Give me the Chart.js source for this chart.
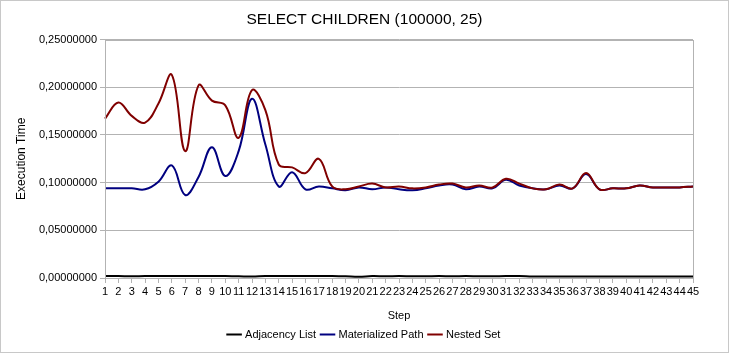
<!DOCTYPE html>
<html>
<head>
<meta charset="utf-8">
<script src="https://cdn.jsdelivr.net/npm/chart.js@4/dist/chart.umd.min.js"></script>
<style>
  html, body { margin: 0; padding: 0; background: #fff; }
  #wrap { width: 729px; height: 353px; }
</style>
</head>
<body>
<div id="wrap"><canvas id="myChart" width="729" height="353"></canvas></div>
<script>
const steps = Array.from({ length: 45 }, (_, i) => String(i + 1));

const adjacencyList = [
    0.0020, 0.0020, 0.0018, 0.0020, 0.0020, 0.0020, 0.0020, 0.0020, 0.0020, 0.0020,
    0.0018, 0.0015, 0.0020, 0.0020, 0.0020, 0.0020, 0.0020, 0.0020, 0.0018, 0.0014,
    0.0020, 0.0018, 0.0020, 0.0018, 0.0018, 0.0020, 0.0018, 0.0020, 0.0018, 0.0018,
    0.0020, 0.0020, 0.0015, 0.0015, 0.0015, 0.0015, 0.0015, 0.0015, 0.0015, 0.0015,
    0.0015, 0.0015, 0.0015, 0.0015, 0.0015
];

const materializedPath = [
    0.094, 0.094, 0.094, 0.093, 0.101, 0.118, 0.087, 0.106, 0.137, 0.107,
    0.133, 0.188, 0.140, 0.096, 0.111, 0.093, 0.096, 0.094, 0.092, 0.095,
    0.093, 0.095, 0.093, 0.092, 0.094, 0.097, 0.098, 0.093, 0.096, 0.094,
    0.103, 0.097, 0.094, 0.093, 0.097, 0.094, 0.109, 0.093, 0.094, 0.094,
    0.097, 0.095, 0.095, 0.095, 0.096
];

const nestedSet = [
    0.167, 0.184, 0.170, 0.163, 0.183, 0.213, 0.133, 0.202, 0.186, 0.181,
    0.147, 0.197, 0.176, 0.119, 0.116, 0.110, 0.125, 0.096, 0.093, 0.096,
    0.099, 0.095, 0.096, 0.094, 0.095, 0.098, 0.099, 0.095, 0.097, 0.095,
    0.104, 0.099, 0.094, 0.093, 0.098, 0.094, 0.110, 0.093, 0.094, 0.094,
    0.097, 0.095, 0.095, 0.095, 0.096
];

const yTicks = { min: 0, max: 0.25, step: 0.05 };

const fontFamily = '"Liberation Sans", Arial, sans-serif';
const gridGray = '#b3b3b3';

const frame = {
    id: 'frame',
    afterDraw(chart) {
        const { ctx, chartArea } = chart;
        ctx.save();
        ctx.strokeStyle = gridGray;
        ctx.lineWidth = 1;
        ctx.strokeRect(Math.round(chartArea.left) + 0.5, Math.round(chartArea.top) + 0.5,
            Math.round(chartArea.right - chartArea.left), Math.round(chartArea.bottom - chartArea.top));
        ctx.strokeStyle = '#c8c8c8';
        ctx.strokeRect(0.5, 0.5, chart.width - 1, chart.height - 1);
        ctx.restore();
    }
};

function makeSeries(label, data, color) {
    return {
        label: label,
        data: data,
        borderColor: color,
        backgroundColor: color,
        borderWidth: 2,
        pointRadius: 0,
        tension: 0.4,
        fill: false
    };
}

const ctx = document.getElementById('myChart').getContext('2d');
new Chart(ctx, {
    type: 'line',
    data: {
        labels: steps,
        datasets: [
            makeSeries('Nested Set', nestedSet, '#800000'),
            makeSeries('Materialized Path', materializedPath, '#000080'),
            makeSeries('Adjacency List', adjacencyList, '#000000')
        ]
    },
    options: {
        responsive: false,
        animation: false,
        layout: { padding: { top: 2, right: 0, bottom: 3, left: 0 } },
        plugins: {
            title: {
                display: true,
                text: 'SELECT CHILDREN (100000, 25)',
                color: '#000',
                font: { family: fontFamily, size: 15.5, weight: 'normal' },
                padding: { top: 8, bottom: 11 }
            },
            legend: {
                position: 'bottom',
                reverse: true,
                labels: {
                    color: '#000',
                    font: { family: fontFamily, size: 11 },
                    usePointStyle: true,
                    pointStyle: 'line',
                    boxWidth: 15,
                    padding: 6
                }
            },
            tooltip: { enabled: false }
        },
        scales: {
            x: {
                grid: { drawOnChartArea: false, drawTicks: true, tickLength: 5, color: gridGray },
                border: { color: gridGray },
                ticks: {
                    color: '#000',
                    font: { family: fontFamily, size: 11 },
                    autoSkip: false,
                    maxRotation: 0,
                    padding: 2
                },
                title: {
                    display: true,
                    text: 'Step',
                    color: '#000',
                    font: { family: fontFamily, size: 11 },
                    padding: { top: 3, bottom: 0 }
                },
                afterFit(scale) { scale.height = 45; }
            },
            y: {
                min: yTicks.min,
                max: yTicks.max,
                grid: { color: gridGray, drawTicks: true, tickLength: 5 },
                border: { color: gridGray },
                ticks: {
                    stepSize: yTicks.step,
                    color: '#000',
                    font: { family: fontFamily, size: 11 },
                    padding: 3,
                    callback: v => v.toFixed(8).replace('.', ',')
                },
                title: {
                    display: true,
                    text: 'Execution Time',
                    color: '#000',
                    font: { family: fontFamily, size: 12 },
                    padding: { top: 14, bottom: 0 }
                },
                afterFit(scale) { scale.width = 105; }
            },
            spacer: {
                position: 'right',
                min: 0,
                max: 1,
                grid: { display: false },
                border: { display: false },
                ticks: { display: false },
                afterFit(scale) { scale.width = 36; }
            }
        }
    },
    plugins: [frame]
});
</script>
</body>
</html>
